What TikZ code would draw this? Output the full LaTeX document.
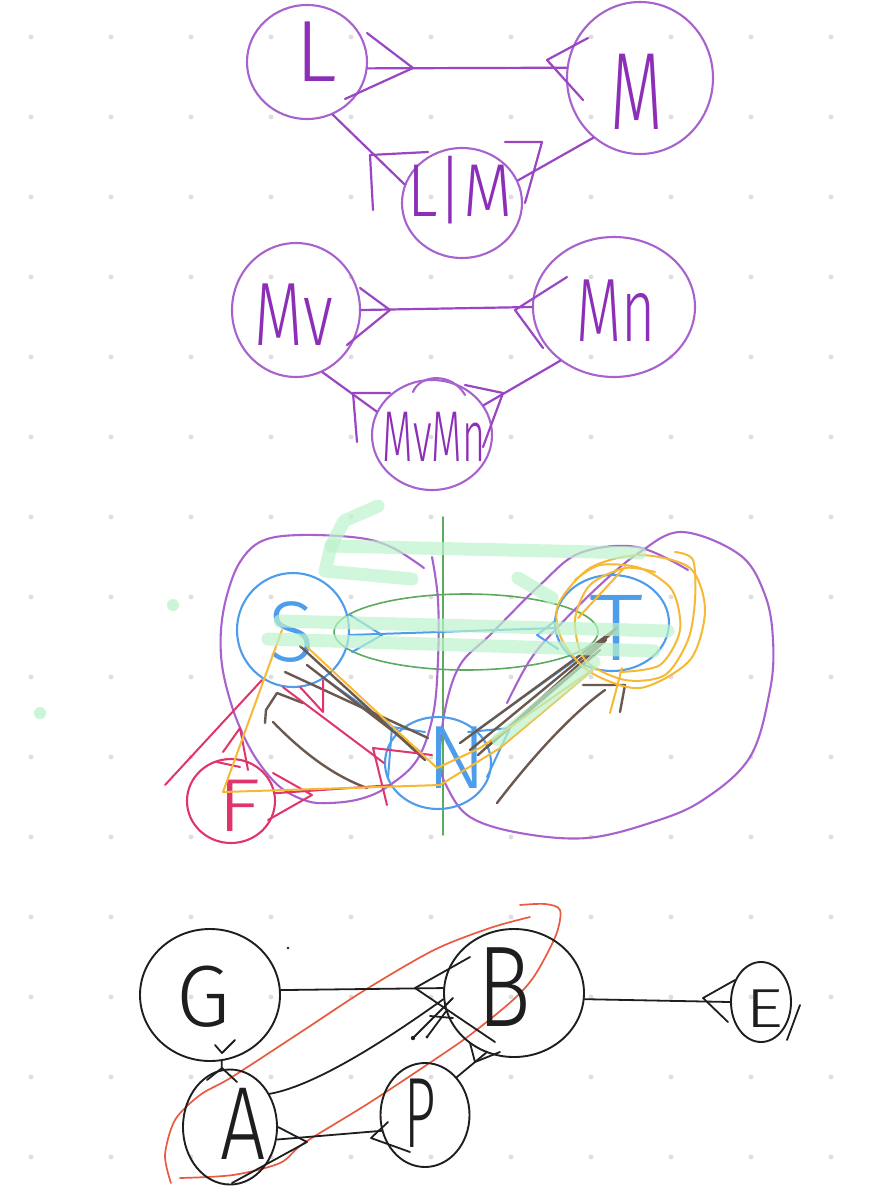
\documentclass[tikz,border=0pt]{standalone}
\usepackage{fontspec}
\usepackage{graphicx}
\usetikzlibrary{shapes.geometric}
\newfontfamily\hand{Fira Sans Light}
\newcommand\hw[3]{\fontsize{#1}{#1}\selectfont\scalebox{#2}[1]{#3}}
\definecolor{pcirc}{HTML}{A862CE}
\definecolor{pline}{HTML}{9A46C3}
\definecolor{ptext}{HTML}{8C2EB7}
\definecolor{blu}{HTML}{4D9DEB}
\definecolor{grn}{HTML}{5BAA5E}
\definecolor{hlc}{HTML}{BDF3CC}
\definecolor{red1}{HTML}{E0356B}
\definecolor{brn}{HTML}{6B594F}
\definecolor{orng}{HTML}{F6B934}
\definecolor{blk}{HTML}{1E1E1E}
\definecolor{rorg}{HTML}{E95A40}
\definecolor{dotc}{HTML}{DDDDDD}
\begin{document}
\begin{tikzpicture}[x=1pt,y=-1pt,line cap=round,line join=round]
\tikzset{
 ent/.style={ellipse, inner sep=0pt, draw},
 pent/.style 2 args={ent, draw=pcirc, line width=2.1pt, minimum width=#1pt, minimum height=#2pt},
 bent/.style 2 args={ent, draw=blu, line width=2.1pt, minimum width=#1pt, minimum height=#2pt},
 rent/.style 2 args={ent, draw=red1, line width=2.1pt, minimum width=#1pt, minimum height=#2pt},
 kent/.style 2 args={ent, draw=blk, line width=1.9pt, minimum width=#1pt, minimum height=#2pt},
 lab/.style={inner sep=0pt, font=\hand},
 plab/.style={lab, text=ptext},
 blab/.style={lab, text=blu},
 rlab/.style={lab, text=red1},
 klab/.style={lab, text=blk},
 pl/.style={draw=pline, line width=2.2pt},
 pc/.style={draw=pcirc, line width=2.1pt},
 bl/.style={draw=blu, line width=2pt},
 gl/.style={draw=grn, line width=1.6pt},
 hl/.style={draw=hlc, line width=13pt, opacity=0.7},
 rd/.style={draw=red1, line width=2pt},
 br/.style={draw=brn, line width=2.4pt},
 oc/.style={draw=orng, line width=2pt},
 kl/.style={draw=blk, line width=1.8pt},
 ro/.style={draw=rorg, line width=1.7pt},
}
\useasboundingbox (0,0) rectangle (884,1202);
\fill[white] (0,0) rectangle (884,1202);
\foreach \i in {0,...,10} \foreach \j in {0,...,14} \fill[dotc] (31+80*\i,37+80*\j) circle[radius=2.4pt];

% ---------- section 1 ----------
\node[pent={120}{114}] (L) at (307,62) {};
\node[pent={146}{152}] (M) at (640,78) {};
\node[pent={120}{110}] (LM) at (462,203) {};
\node[plab] (Lt) at (316,52) {\hw{87pt}{1}{L}};
\node[plab] (Mt) at (637,92) {\hw{110pt}{0.62}{M}};
\node[plab] (LMt) at (460,190) {\hw{75pt}{0.85}{L|M}};
\draw[pl] (L.-6) -- (M.172);
\draw[pl] (367,33) -- (413,68) -- (345,99);
\draw[pl] (588,38) -- (547,60) -- (583,100);
\draw[pl] (L.-64) -- (LM.162);
\draw[pl] (428,152) -- (370,155) -- (373,210);
\draw[pl] (M.232) -- (LM.22);
\draw[pl] (505,142) -- (542,142) -- (525,203);

% ---------- section 2 ----------
\node[pent={128}{134}] (Mv) at (296,310) {};
\node[pent={162}{140}] (Mn) at (614,307) {};
\node[pent={120}{110}] (MvMn) at (432,435) {};
\node[plab] (Mvt) at (294,315) {\hw{90pt}{0.7}{Mv}};
\node[plab] (Mnt) at (616,311) {\hw{90pt}{0.65}{Mn}};
\node[plab] (MvMnt) at (434,437) {\hw{72pt}{0.55}{MvMn}};
\draw[pc] (413,392) .. controls (420,374) and (452,372) .. (465,395);
\draw[pl] (Mv.east) -- (Mn.west);
\draw[pl] (360,288) -- (390,310) -- (347,345);
\draw[pl] (567,277) -- (515,310) -- (543,348);
\draw[pl] (Mv.-67) -- (MvMn.157);
\draw[pl] (390,393) -- (353,393) -- (357,442);
\draw[pl] (Mn.225) -- (MvMn.30);
\draw[pl] (465,385) -- (503,393) -- (483,447);

% ---------- section 3 ----------
\draw[gl] (443,517) -- (443,835);
\draw[gl] (466,632) ellipse[x radius=132pt, y radius=38pt];
\draw[pc] plot[smooth, tension=0.6] coordinates {(424,568) (393,548) (360,538) (300,535) (262,541) (240,562) (227,595) (221,630) (222,665) (230,700) (241,730) (257,760) (280,787) (307,801) (330,803) (360,799) (387,787) (417,760) (433,715) (438,660) (438,600) (432,557)};
\draw[pc] plot[smooth, tension=0.6] coordinates {(507,703) (530,660) (557,628) (600,585) (640,552) (682,532) (740,555) (765,595) (773,640) (770,690) (750,757) (703,800) (653,822) (587,838) (520,833) (470,817) (447,787) (440,760) (445,710) (460,665) (490,635) (540,585) (580,553) (637,547) (688,570)};

\node[bent={112}{114}] (S) at (293,630) {};
\node[bent={114}{96}] (T) at (612,623) {};
\node[bent={106}{92}] (N) at (438,763) {};
\node[rent={88}{84}] (F) at (231,801) {};
\node[blab] (St) at (292,632) {\hw{86pt}{1}{S}};
\node[blab] (Tt) at (617,628) {\hw{95pt}{1.15}{T}};
\node[blab] (Nt) at (457,758) {\hw{90pt}{1}{N}};
\node[rlab] (Ft) at (239,806) {\hw{75pt}{1.2}{F}};

\draw[bl] (S.-5) -- (T.185);
\draw[bl] (350,615) -- (382,635) -- (352,652);
\draw[bl] (555,621) -- (537,635) -- (558,649);
\draw[bl] (S.-57) -- (N.141);
\draw[bl] (425,732) -- (392,727) -- (388,778);
\draw[bl] (N.40) -- (T.225);
\draw[bl] (468,732) -- (510,728) -- (487,777);

\draw[br] (285,672) -- (428,738);
\draw[br] (300,646) -- (425,760);
\draw[br] (307,665) -- (420,752);
\draw[br] (265,723) -- (266,710) -- (277,693) -- (303,703);
\draw[br] (273,722) .. controls (310,760) and (340,778) .. (367,788);
\draw[br] (460,743) -- (617,628);
\draw[br] (470,750) -- (612,633);
\draw[br] (478,755) -- (606,640);
\draw[br] (486,748) -- (600,650);
\draw[br] (497,803) .. controls (530,760) and (570,715) .. (605,690);
\draw[br] (583,685) -- (625,685) -- (620,712);

\draw[rd] (165,785) -- (262,680);
\draw[rd] (223,752) -- (240,728) -- (248,770);
\draw[rd] (217,762) -- (240,767);
\draw[rd] (273,773) -- (312,795) -- (268,820);
\draw[rd] (F.10) -- (N.205);
\draw[rd] (S.-100) -- (N.180);
\draw[rd] (300,687) -- (323,712) -- (323,680);
\draw[rd] (387,805) -- (373,748) -- (432,755);

\draw[oc] (282,630) -- (223,792) -- (440,785) -- (500,748) -- (593,670);
\draw[oc] (307,647) -- (437,768) -- (480,748) -- (595,668);
\draw[oc] plot[smooth cycle] coordinates {(558,605) (590,568) (640,555) (690,568) (705,610) (690,660) (640,688) (590,672) (562,640)};
\draw[oc] plot[smooth] coordinates {(675,552) (693,560) (695,600) (688,640) (665,675) (625,680) (585,660) (575,620) (590,585) (625,568) (655,572)};
\draw[oc] plot[smooth] coordinates {(575,580) (600,565) (640,568) (672,590) (680,630) (660,665) (620,672)};
\draw[oc] (625,567) -- (578,618);
\draw[oc] (610,713) -- (622,668);

\draw[hl] (378,506) -- (344,521) -- (331,546) -- (325,571) -- (412,579);
\draw[hl] (331,546) -- (640,553);
\draw[hl] (518,578) -- (552,598);
\draw[hl] (280,621) -- (668,631);
\draw[hl] (268,639) -- (654,651);
\draw[hl] (498,740) -- (594,662);
\fill[hlc, opacity=0.8] (173,605) circle[radius=6pt];
\fill[hlc, opacity=0.8] (40,713) circle[radius=6pt];

% ---------- section 4 ----------
\draw[ro] plot[smooth] coordinates {(171,1183) (165,1155) (175,1120) (200,1095) (232,1077) (304,1030) (365,990) (434,950) (490,928) (530,917)};
\draw[ro] plot[smooth] coordinates {(520,905) (545,904) (560,910) (556,935) (535,975) (513,1000) (470,1035) (434,1060) (369,1103) (304,1143) (280,1163) (233,1175) (180,1178)};

\node[kent={140}{132}] (G) at (210,995) {};
\node[kent={140}{128}] (B) at (514,993) {};
\node[kent={94}{115}] (A) at (230,1127) {};
\node[kent={89}{104}] (P) at (425,1115) {};
\node[kent={60}{80}] (E) at (761,1002) {};
\node[klab] (Gt) at (203,997) {\hw{87pt}{1}{G}};
\node[klab] (Bt) at (504,987) {\hw{115pt}{0.78}{B}};
\node[klab] (At) at (243,1124) {\hw{104pt}{0.77}{A}};
\node[klab] (Pt) at (420,1113) {\hw{100pt}{0.55}{P}};
\node[klab] (Et) at (764,1009) {\hw{55pt}{1.35}{E}};

\draw[kl] (G.4) -- (B.176);
\draw[kl] (470,957) -- (415,988) -- (495,1042);
\draw[kl] (A.40) .. controls (320,1085) and (400,1030) .. (B.185);
\draw[kl] (453,998) -- (413,1038);
\draw[kl] (447,1010) -- (427,1037);
\draw[kl] (430,1016) -- (453,1018);
\fill[blk] (413,1038) circle[radius=2.2pt];
\fill[blk] (427,1037) circle[radius=1.6pt];
\draw[kl] (A.-15) -- (P.200);
\draw[kl] (278,1127) -- (307,1142) -- (232,1183);
\draw[kl] (388,1122) -- (371,1138) -- (410,1152);
\draw[kl] (P.50) -- (B.-115);
\draw[kl] (470,1043) -- (475,1062) -- (500,1052);
\draw[kl] (G.-80) -- (A.98);
\draw[kl] (215,1045) -- (222,1053) -- (235,1040);
\draw[kl] (207,1080) -- (222,1068) -- (237,1082);
\draw[kl] (B.-5) -- (E.180);
\draw[kl] (735,980) -- (703,998) -- (728,1022);
\draw[kl] (800,1005) -- (787,1040);
\fill[blk] (288,948) circle[radius=1.4pt];
\end{tikzpicture}
\end{document}
